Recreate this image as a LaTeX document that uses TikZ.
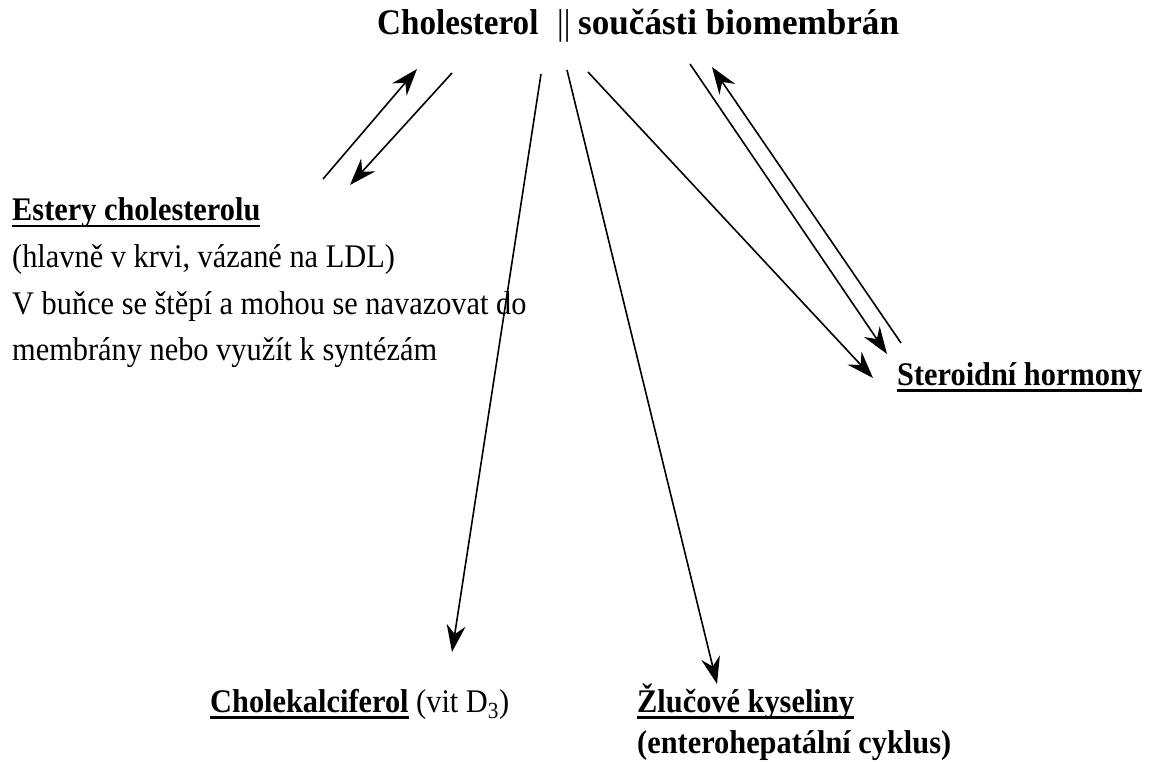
\documentclass[tikz,border=0pt]{standalone}
\usepackage{fontspec}
\setmainfont[FakeStretch=0.92]{Liberation Serif}
\usetikzlibrary{arrows.meta}
\newcommand\myul[1]{\setbox0\hbox{#1}\rlap{\rule[-6.5pt]{\wd0}{2.6pt}}\box0\relax}
\tikzset{
  arr/.style={line width=1.6pt, -{Stealth[length=27pt,width=19pt,inset=9pt]}},
  txt/.style={anchor=base west, inner sep=0pt, font=\fontsize{33}{40}\selectfont},
  ttl/.style={anchor=base west, inner sep=0pt, font=\fontsize{36}{44}\selectfont\bfseries}
}
\begin{document}
\begin{tikzpicture}[x=1pt,y=-1pt]
\useasboundingbox[fill=white] (0,0) rectangle (1154,762);
% title
\node[ttl] (chol) at (377,35) {Cholesterol};
\node[ttl] (bars) at (557,35) {\mdseries ||};
\node[ttl] (memb) at (578,35) {\scalebox{1.06}[1]{součásti biomembrán}};
% texts
\node[txt] (est) at (12,221) {\myul{\textbf{Estery cholesterolu}}};
\node[txt] (est2) at (12,268) {(hlavně v krvi, vázané na LDL)};
\node[txt] (est3) at (12,314) {V buňce se štěpí a mohou se navazovat do};
\node[txt] (est4) at (12,360) {membrány nebo využít k syntézám};
\node[txt] (ster) at (897,385) {\myul{\textbf{Steroidní hormony}}};
\node[txt] (vitd) at (210,712) {\myul{\textbf{Cholekalciferol}}\ (vit D\textsubscript{3})};
\node[txt] (zluc) at (637,712) {\myul{\textbf{Žlučové kyseliny}}};
\node[txt] (ente) at (637,753) {\textbf{(enterohepatální cyklus)}};
% arrow endpoints
\coordinate (a1s) at (323,179);
\coordinate (a1e) at (417,69);
\coordinate (a2s) at (452,73);
\coordinate (a2e) at (350,185);
\coordinate (a3s) at (541,74);
\coordinate (a3e) at (452,652);
\coordinate (a4s) at (567,70);
\coordinate (a4e) at (717,684);
\coordinate (a5s) at (588,72);
\coordinate (a5e) at (873,378);
\coordinate (a6s) at (690,64);
\coordinate (a6e) at (887,354);
\coordinate (a7s) at (901,343);
\coordinate (a7e) at (712,67);
\draw[arr] (a1s) -- (a1e);
\draw[arr] (a2s) -- (a2e);
\draw[arr] (a3s) -- (a3e);
\draw[arr] (a4s) -- (a4e);
\draw[arr] (a5s) -- (a5e);
\draw[arr] (a6s) -- (a6e);
\draw[arr] (a7s) -- (a7e);
\end{tikzpicture}
\end{document}
